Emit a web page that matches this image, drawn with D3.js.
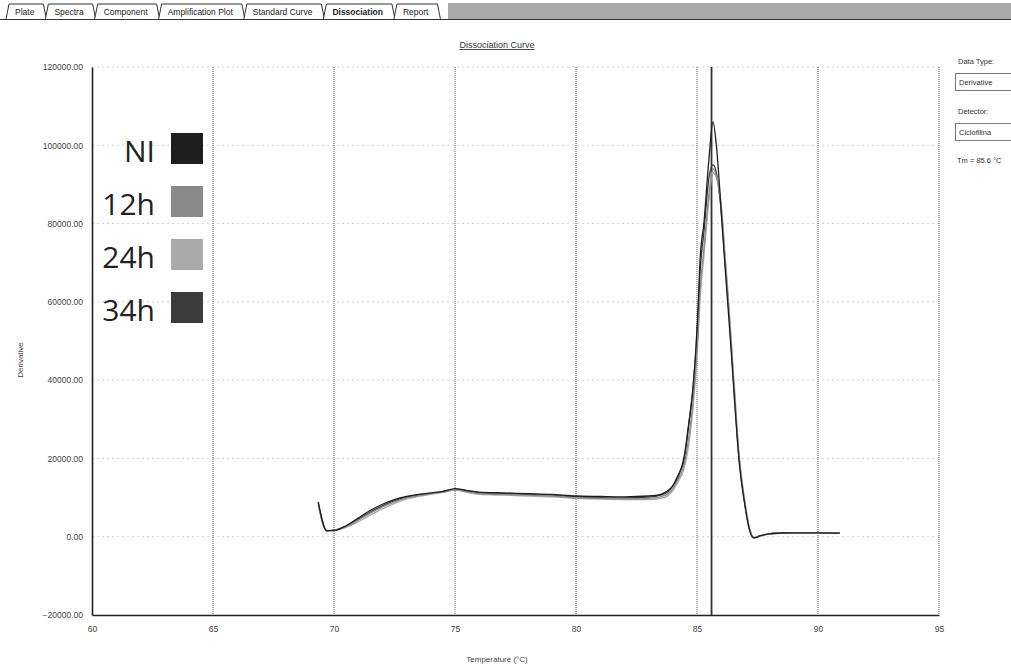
<!DOCTYPE html>
<html>
<head>
<meta charset="utf-8">
<script src="https://cdn.jsdelivr.net/npm/d3@7"></script>
<style>
  body { margin: 0; background: #fff; }
  svg { display: block; font-family: "Liberation Sans", "DejaVu Sans", sans-serif; }
</style>
</head>
<body>
<svg width="1011" height="667"></svg>
<script>
// temperatures (°C), shared by all four curves
const temps = [69.35, 69.7, 70.0, 70.5, 71.0, 71.5, 72.0, 72.5, 73.0, 73.5, 74.0, 74.5, 75.0, 75.5, 76.0,
  77.0, 78.0, 79.0, 80.0, 81.0, 82.0, 83.0, 83.5, 83.8, 84.0, 84.2, 84.47, 84.65, 84.84, 85.04, 85.12,
  85.29, 85.5, 85.66, 85.8, 86.03, 86.15, 86.32, 86.44, 86.56, 86.73, 86.98, 87.18, 87.35, 87.6, 88.0,
  88.5, 89.0, 90.0, 90.9];

const niValues = [8900, 1500, 1600, 2800, 4800, 6700, 8300, 9500, 10300, 10800, 11200, 11600, 12300, 11800, 11400,
  11200, 11000, 10800, 10400, 10300, 10200, 10400, 10800, 11800, 13000, 15200, 20500, 28500, 38500, 58000, 70000,
  80400, 97000, 106000, 100000, 80400, 69700, 55500, 45000, 34000, 20000, 8000, 1500, -300, 200, 750,
  950, 1000, 1000, 900];
const h12Values = [8200, 1600, 1700, 2600, 4200, 6000, 7600, 8900, 9900, 10500, 11000, 11400, 12000, 11500, 11000,
  10800, 10600, 10400, 10000, 9800, 9700, 9800, 10200, 11000, 12300, 14500, 18500, 25000, 35000, 52000, 62000,
  74000, 88000, 94000, 92000, 82000, 72000, 58000, 47000, 36000, 21000, 8500, 1800, -200, 200, 750,
  950, 1000, 1000, 900];
const h24Values = [8000, 1500, 1600, 2400, 3800, 5500, 7100, 8500, 9600, 10300, 10800, 11300, 11900, 11300, 10800,
  10600, 10400, 10200, 9800, 9600, 9500, 9500, 9800, 10500, 11800, 13800, 17500, 23000, 33000, 50000, 60000,
  72000, 86000, 93000, 92000, 83000, 73000, 59000, 48000, 37000, 22000, 9000, 2000, -200, 200, 750,
  950, 1000, 1000, 900];
const h34Values = [8600, 1500, 1600, 2700, 4500, 6300, 7900, 9200, 10100, 10600, 11000, 11500, 12100, 11700, 11200,
  11000, 10800, 10600, 10200, 10000, 9900, 10100, 10600, 11500, 13000, 15500, 19500, 28000, 38000, 56000, 67000,
  78000, 92000, 95000, 93000, 81000, 71000, 57000, 46000, 35000, 20500, 8200, 1600, -300, 200, 750,
  950, 1000, 1000, 900];

const seriesNames = ["NI", "12h", "24h", "34h"];
const seriesColors = ["#1e1e1e", "#8a8a8a", "#ababab", "#3c3c3c"];
const xTicks = [60, 65, 70, 75, 80, 85, 90, 95];
const yTicks = [-20000, 0, 20000, 40000, 60000, 80000, 100000, 120000];
const tabNames = ["Plate", "Spectra", "Component", "Amplification Plot", "Standard Curve", "Dissociation", "Report"];
const tm = 85.6;

const series = [niValues, h12Values, h24Values, h34Values].map((vals, i) => ({
  name: seriesNames[i],
  color: seriesColors[i],
  points: temps.map((t, j) => [t, vals[j]])
}));

const svg = d3.select("svg");

// ---- tab strip ----
const tabs = svg.append("g").attr("class", "tabs");
tabs.append("rect").attr("x", 448).attr("y", 3).attr("width", 563).attr("height", 16)
  .attr("fill", "#a9a9a9");
tabs.append("line").attr("x1", 0).attr("x2", 1011).attr("y1", 19.5).attr("y2", 19.5)
  .attr("stroke", "#333");
let tx = 6;
tabNames.forEach((name) => {
  const bold = name === "Dissociation";
  const t = tabs.append("text").attr("x", tx + 9).attr("y", 15)
    .attr("font-size", 8.5).attr("font-weight", bold ? "bold" : "normal")
    .attr("fill", "#222").text(name);
  const w = t.node().getComputedTextLength() + 18;
  tabs.insert("path", "text")
    .attr("d", `M${tx},19 L${tx + 3},4 L${tx + w},4 L${tx + w + 3},19`)
    .attr("fill", "#fff").attr("stroke", "#333").attr("stroke-width", 1);
  tx += w + 2;
});

// ---- plot ----
const x = d3.scaleLinear().domain([60, 95]).range([92, 939]);
const y = d3.scaleLinear().domain([-20000, 120000]).range([615, 67]);

svg.append("text").attr("x", 497).attr("y", 48).attr("text-anchor", "middle")
  .attr("font-size", 9).attr("fill", "#333").attr("text-decoration", "underline")
  .text("Dissociation Curve");

const grid = svg.append("g").attr("class", "grid");
grid.selectAll(".hgrid").data(yTicks.slice(1)).join("line")
  .attr("class", "hgrid")
  .attr("x1", x(60)).attr("x2", x(95))
  .attr("y1", (d) => y(d)).attr("y2", (d) => y(d))
  .attr("stroke", "#cfcfcf").attr("stroke-dasharray", "2,3");
grid.selectAll(".vgrid").data(xTicks.slice(1)).join("line")
  .attr("class", "vgrid")
  .attr("x1", (d) => x(d)).attr("x2", (d) => x(d))
  .attr("y1", y(120000)).attr("y2", y(-20000))
  .attr("stroke", "#5a5a5a").attr("stroke-dasharray", "1,1");

// axes
const yAxis = svg.append("g").attr("transform", `translate(${x(60)},0)`)
  .call(d3.axisLeft(y).tickValues(yTicks).tickSize(0).tickPadding(9).tickFormat(d3.format(".2f")));
const xAxis = svg.append("g").attr("transform", `translate(0,${y(-20000)})`)
  .call(d3.axisBottom(x).tickValues(xTicks).tickSize(0).tickPadding(11));
[yAxis, xAxis].forEach((g) => {
  g.select(".domain").attr("stroke", "#222").attr("stroke-width", 1.6);
  g.selectAll("text").attr("font-size", 8.5).attr("fill", "#444")
    .attr("font-family", "'Liberation Sans', sans-serif");
});

svg.append("text").attr("x", 497).attr("y", 662).attr("text-anchor", "middle")
  .attr("font-size", 8).attr("fill", "#444").text("Temperature (°C)");
svg.append("text").attr("transform", "translate(23,360) rotate(-90)").attr("text-anchor", "middle")
  .attr("font-size", 8).attr("fill", "#444").text("Derivative");

// Tm marker
svg.append("line").attr("x1", x(tm)).attr("x2", x(tm)).attr("y1", y(120000)).attr("y2", y(-20000))
  .attr("stroke", "#333").attr("stroke-width", 1.8);

// curves
const line = d3.line().x((d) => x(d[0])).y((d) => y(d[1])).curve(d3.curveMonotoneX);
svg.append("g").selectAll("path").data(series.slice().reverse()).join("path")
  .attr("d", (d) => line(d.points))
  .attr("fill", "none")
  .attr("stroke", (d) => d.color)
  .attr("stroke-width", 1.3)
  .attr("stroke-linejoin", "round");

// legend
const legend = svg.append("g").selectAll("g").data(series).join("g")
  .attr("transform", (d, i) => `translate(0,${148 + i * 53})`);
legend.append("text").attr("x", 155).attr("y", 14).attr("text-anchor", "end")
  .attr("font-family", "'Open Sans', sans-serif")
  .attr("font-size", 30).attr("fill", "#222")
  .text((d) => d.name);
legend.append("rect").attr("x", 171).attr("y", -15).attr("width", 32).attr("height", 31)
  .attr("fill", (d) => d.color);

// right panel
const panel = svg.append("g").attr("font-size", 7.5).attr("fill", "#333");
panel.append("text").attr("x", 958).attr("y", 64).text("Data Type:");
panel.append("rect").attr("x", 955.5).attr("y", 73.5).attr("width", 60).attr("height", 17)
  .attr("fill", "#fff").attr("stroke", "#777");
panel.append("text").attr("x", 959).attr("y", 85).text("Derivative");
panel.append("text").attr("x", 958).attr("y", 114).text("Detector:");
panel.append("rect").attr("x", 955.5).attr("y", 123.5).attr("width", 60).attr("height", 17)
  .attr("fill", "#fff").attr("stroke", "#777");
panel.append("text").attr("x", 959).attr("y", 135).text("Ciclofilina");
panel.append("text").attr("x", 957).attr("y", 163).text(`Tm = ${tm} °C`);
</script>
</body>
</html>
